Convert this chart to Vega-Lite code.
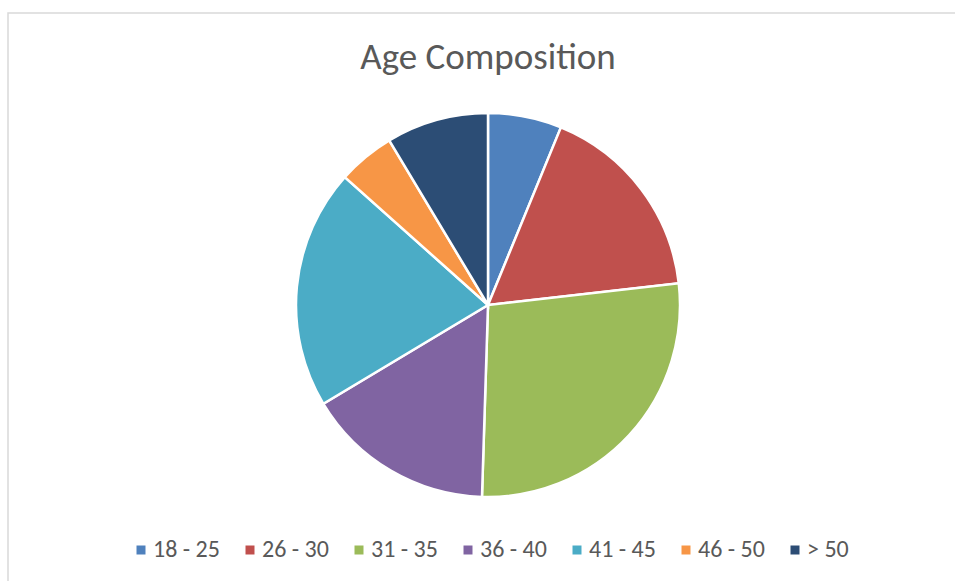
{
  "$schema": "https://vega.github.io/schema/vega-lite/v6.json",
  "autosize": "none",
  "padding": {"left": 8, "top": 13, "right": 0, "bottom": 0},
  "width": 960,
  "height": 584,
  "background": "white",
  "view": {"stroke": "#d9d9d9", "strokeWidth": 1.5, "fill": "white"},
  "title": {
    "text": "Age Composition",
    "fontSize": 37,
    "fontWeight": "normal",
    "color": "#595959",
    "font": "Carlito, Lato, Open Sans",
    "anchor": "middle",
    "offset": -64
  },
  "data": {
    "values": [
      {"age": "18 - 25", "share": 6.2, "k": 1},
      {"age": "26 - 30", "share": 17.0, "k": 2},
      {"age": "31 - 35", "share": 27.3, "k": 3},
      {"age": "36 - 40", "share": 15.9, "k": 4},
      {"age": "41 - 45", "share": 20.2, "k": 5},
      {"age": "46 - 50", "share": 4.8, "k": 6},
      {"age": "> 50", "share": 8.6, "k": 7}
    ]
  },
  "mark": {"type": "arc", "outerRadius": 192, "stroke": "white", "strokeWidth": 2.5},
  "encoding": {
    "theta": {"field": "share", "type": "quantitative", "stack": true},
    "order": {"field": "k", "type": "quantitative"},
    "color": {
      "field": "age",
      "type": "nominal",
      "scale": {
        "domain": ["18 - 25", "26 - 30", "31 - 35", "36 - 40", "41 - 45", "46 - 50", "> 50"],
        "range": ["#4F81BD", "#C0504D", "#9BBB59", "#8064A2", "#4BACC6", "#F79646", "#2C4D75"]
      },
      "legend": {
        "title": null,
        "orient": "none",
        "direction": "horizontal",
        "columns": 7,
        "legendX": 121,
        "legendY": 525,
        "symbolType": "square",
        "symbolSize": 81,
        "symbolStrokeWidth": 0,
        "symbolOffset": 0,
        "labelFont": "Carlito, Lato, Open Sans",
        "labelFontSize": 24,
        "labelColor": "#595959",
        "labelOffset": 0,
        "columnPadding": 18,
        "gridAlign": "all"
      }
    }
  }
}
